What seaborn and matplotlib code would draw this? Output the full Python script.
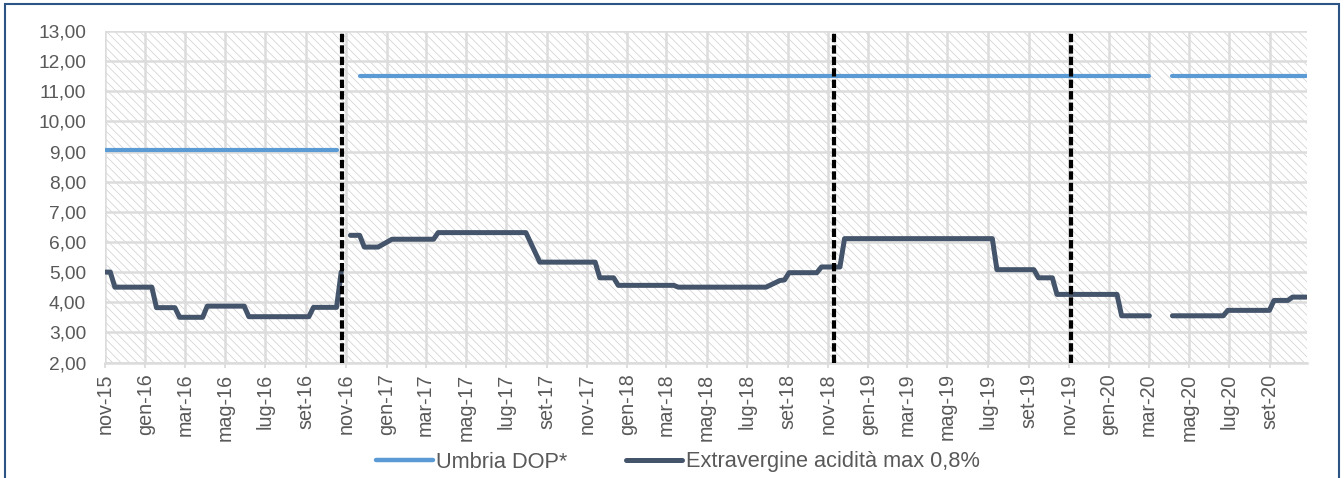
import numpy as np
import pandas as pd
import matplotlib
matplotlib.use("Agg")
import matplotlib.pyplot as plt
from matplotlib.lines import Line2D
from matplotlib.patches import Rectangle
from matplotlib.ticker import FuncFormatter
import seaborn as sns

# ---------------- data (weekly prices, vertices of the lines; None = no quotation) ----------------
series_names = ["Umbria DOP*", "Extravergine acidità max 0,8%"]

dop_dates = ["2015-11-02", "2016-10-17", "2016-10-24", "2016-11-21", "2020-03-02",
             "2020-03-09", "2020-04-06", "2020-10-26"]
dop_values = [9.05, 9.05, None, 11.50, 11.50, None, 11.50, 11.50]

evo_dates = ["2015-11-02", "2015-11-09", "2015-11-16", "2016-01-11", "2016-01-18",
             "2016-02-15", "2016-02-22", "2016-03-28", "2016-04-04", "2016-05-30",
             "2016-06-06", "2016-09-05", "2016-09-12", "2016-10-17", "2016-10-24",
             "2016-10-31", "2016-11-07", "2016-11-21", "2016-11-28", "2016-12-19",
             "2017-01-09", "2017-03-13", "2017-03-20", "2017-07-31", "2017-08-21",
             "2017-11-13", "2017-11-20", "2017-12-11", "2017-12-18", "2018-03-12",
             "2018-03-19", "2018-07-30", "2018-08-20", "2018-08-27", "2018-09-03",
             "2018-10-15", "2018-10-22", "2018-11-19", "2018-11-26", "2019-07-08",
             "2019-07-15", "2019-09-09", "2019-09-16", "2019-10-07", "2019-10-14",
             "2020-01-13", "2020-01-20", "2020-03-02", "2020-03-09", "2020-04-06",
             "2020-06-22", "2020-06-29", "2020-08-31", "2020-09-07", "2020-09-28",
             "2020-10-05", "2020-10-26"]
evo_values = [5.00, 5.00, 4.50, 4.50, 3.82,
              3.82, 3.50, 3.50, 3.87, 3.87,
              3.52, 3.52, 3.83, 3.83, 5.00,
              None, 6.22, 6.22, 5.83, 5.83,
              6.09, 6.09, 6.31, 6.31, 5.33,
              5.33, 4.81, 4.81, 4.56, 4.56,
              4.50, 4.50, 4.72, 4.74, 4.98,
              4.98, 5.17, 5.17, 6.11, 6.11,
              5.08, 5.08, 4.81, 4.81, 4.26,
              4.26, 3.55, 3.55, None, 3.55,
              3.55, 3.73, 3.73, 4.06, 4.06,
              4.17, 4.17]

campaign_starts = ["2016-10-26", "2018-11-10", "2019-11-04"]

month_names_it = ["gen", "feb", "mar", "apr", "mag", "giu",
                  "lug", "ago", "set", "ott", "nov", "dic"]
y_ticks = [2, 3, 4, 5, 6, 7, 8, 9, 10, 11, 12, 13]
x_start, x_end = "2015-11-01", "2020-10-27"
first_tick, last_tick = "2015-11-01", "2020-09-01"

# ---------------- style ----------------
BLUE = "#5B9BD5"
DARK = "#44546A"
GRID = "#DCDCDC"
TEXT = "#595959"

sns.set_theme(style="white")
plt.rcParams["font.family"] = ["Liberation Sans", "DejaVu Sans"]
plt.rcParams["hatch.linewidth"] = 0.55
plt.rcParams["hatch.color"] = "#D2D2D2"


def frame(dates, values):
    df = pd.DataFrame({"date": pd.to_datetime(dates),
                       "value": pd.array(values, dtype="float")})
    df["seg"] = df["value"].isna().cumsum()
    return df.dropna()


W, H = 1344, 478
fig = plt.figure(figsize=(W / 100, H / 100), dpi=100)
fig.patch.set_facecolor("white")
left, right, top, bottom = 105, 1307, 31, 362.5
ax = fig.add_axes([left / W, 1 - bottom / H, (right - left) / W, (bottom - top) / H])

# hatched plot background
ax.patch.set_facecolor("white")
ax.patch.set_hatch("\\\\\\\\")
ax.patch.set_edgecolor("#D2D2D2")
ax.patch.set_linewidth(0)

ax.grid(True, color=GRID, lw=1.8)
ax.set_axisbelow(True)

dop_df = frame(dop_dates, dop_values)
evo_df = frame(evo_dates, evo_values)

sns.lineplot(data=dop_df, x="date", y="value", units="seg", estimator=None,
             color=BLUE, lw=3.0, ax=ax, legend=False, zorder=3)
sns.lineplot(data=evo_df, x="date", y="value", units="seg", estimator=None,
             color=DARK, lw=3.6, ax=ax, legend=False, zorder=3)

for d in campaign_starts:
    ax.axvline(pd.Timestamp(d), color="black", lw=3.0, ls=(0, (2.0, 0.75)), zorder=5)

# axes
ax.set_xlim(pd.Timestamp(x_start), pd.Timestamp(x_end))
ax.set_ylim(y_ticks[0], y_ticks[-1])
ax.set_yticks(y_ticks)
ax.yaxis.set_major_formatter(FuncFormatter(lambda v, p: f"{v:.2f}".replace(".", ",")))

ticks = pd.date_range(first_tick, last_tick, freq="2MS")
ax.set_xticks(ticks)
ax.set_xticklabels([f"{month_names_it[t.month - 1]}-{t.year % 100:02d}" for t in ticks],
                   rotation=90)
ax.set_xlabel("")
ax.set_ylabel("")

for s in ["left", "right", "top"]:
    ax.spines[s].set_visible(False)
ax.spines["bottom"].set_color(GRID)
ax.spines["bottom"].set_linewidth(1.8)

ax.tick_params(axis="x", bottom=True, length=3.4, width=1.3, color=GRID,
               labelsize=14.2, labelcolor=TEXT, pad=4.5)
ax.tick_params(axis="y", left=False, length=0, labelsize=13.8, labelcolor=TEXT, pad=13.7)

# legend
handles = [Line2D([], [], color=BLUE, lw=3.2), Line2D([], [], color=DARK, lw=3.6)]
fig.legend(handles, series_names, loc="center", bbox_to_anchor=(678 / W, 1 - 462 / H),
           ncol=2, frameon=False, fontsize=15.7, handlelength=2.57, handletextpad=0.18,
           columnspacing=2.66, labelcolor=TEXT)

# outer frame
fig.add_artist(Rectangle((5 / W, -0.02), (1339 - 5) / W, (1 - 4 / H) + 0.02,
                         transform=fig.transFigure, fill=False,
                         edgecolor="#2C5484", lw=1.5))

fig.savefig("out.png", dpi=100)
